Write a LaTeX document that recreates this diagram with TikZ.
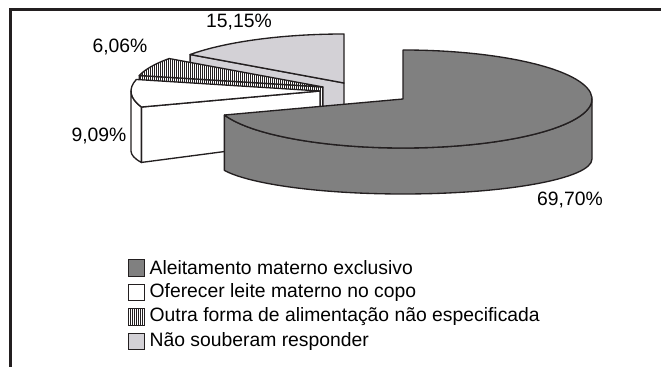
\documentclass[tikz,border=0pt]{standalone}
\usepackage{fontspec}
\setmainfont{Liberation Sans}
\usetikzlibrary{positioning,calc,patterns.meta}
\definecolor{outline}{RGB}{35,31,32}
\definecolor{darkslice}{RGB}{128,128,128}
\definecolor{lightslice}{RGB}{211,209,214}
\tikzset{
  slice/.style={draw=outline, line width=1pt, line join=round},
  hatch/.style={preaction={fill=white}, pattern={Lines[angle=90,distance=1.5pt,line width=0.45pt]}, pattern color=outline},
  legbox/.style={draw=outline, line width=0.8pt, minimum size=12.5pt, inner sep=0pt},
  legtext/.style={inner sep=0pt}
}
\begin{document}
\begin{tikzpicture}[x=0.75pt, y=0.75pt, font=\fontsize{14.5}{17}\selectfont]
            \useasboundingbox (0,0) rectangle (661,367);
            \draw[line width=1.6pt, outline] (10.5,0) -- (10.5,357.5) -- (661,357.5);

            \coordinate (NSR) at (344,284);
            \coordinate (OFA) at (323,280);
            \coordinate (OLC) at (320,276);
            \coordinate (AME) at (403,268);

            \filldraw[slice, fill=lightslice] (NSR) ++(144.5:189 and 49) -- (NSR) -- ++(0,-48) -- ($(NSR)+(0,-60)+(144.5:189 and 35)$) -- cycle;
            \filldraw[slice, fill=lightslice] (NSR) -- ++(90:189 and 49) arc[start angle=90, end angle=144.5, x radius=189, y radius=49] -- cycle;

            \draw[slice, hatch] (OFA) ++(166.4:189 and 49) -- (OFA) -- ++(0,-48) -- ($(OFA)+(0,-60)+(166.4:189 and 35)$) -- cycle;
            \draw[slice, hatch] (OFA) -- ++(144.5:189 and 49) arc[start angle=144.5, end angle=166.4, x radius=189, y radius=49] -- cycle;

            \filldraw[slice, fill=white] (OLC) ++(199.1:189 and 49) -- (OLC) -- ++(0,-48) -- ($(OLC)+(0,-60)+(199.1:189 and 35)$) -- cycle;
            \filldraw[slice, fill=white] (OLC) ++(180:189 and 49) arc[start angle=180, end angle=199.1, x radius=189, y radius=49] -- ($(OLC)+(0,-60)+(199.1:189 and 35)$) arc[start angle=199.1, end angle=180, x radius=189, y radius=35] -- cycle;
            \filldraw[slice, fill=white] (OLC) -- ++(166.4:189 and 49) arc[start angle=166.4, end angle=199.1, x radius=189, y radius=49] -- cycle;

            \filldraw[slice, fill=darkslice] (AME) ++(199.1:189 and 49) arc[start angle=199.1, end angle=360, x radius=189, y radius=49] -- ++(0,-60) arc[start angle=360, end angle=199.1, x radius=189, y radius=35] -- cycle;
            \filldraw[slice, fill=darkslice] (AME) -- ++(199.1:189 and 49) arc[start angle=199.1, end angle=450, x radius=189, y radius=49] -- cycle;

            \node (pNSR) at (239,345) {15,15\%};
            \node (pOFA) at (120,320) {6,06\%};
            \node (pOLC) at (99,231) {9,09\%};
            \node (pAME) at (570,167) {69,70\%};

            \node[legbox, fill=darkslice] (kAME) at (136.5,99) {};
            \node[legbox, fill=white] (kOLC) at (136.5,74.5) {};
            \node[legbox, hatch] (kOFA) at (136.5,50) {};
            \node[legbox, fill=lightslice] (kNSR) at (136.5,25.5) {};
            \node[legtext, right=3pt of kAME] (tAME) {Aleitamento materno exclusivo};
            \node[legtext, right=3pt of kOLC] (tOLC) {Oferecer leite materno no copo};
            \node[legtext, right=3pt of kOFA] (tOFA) {Outra forma de alimentação não especificada};
            \node[legtext, right=3pt of kNSR] (tNSR) {Não souberam responder};
          \end{tikzpicture}
\end{document}
